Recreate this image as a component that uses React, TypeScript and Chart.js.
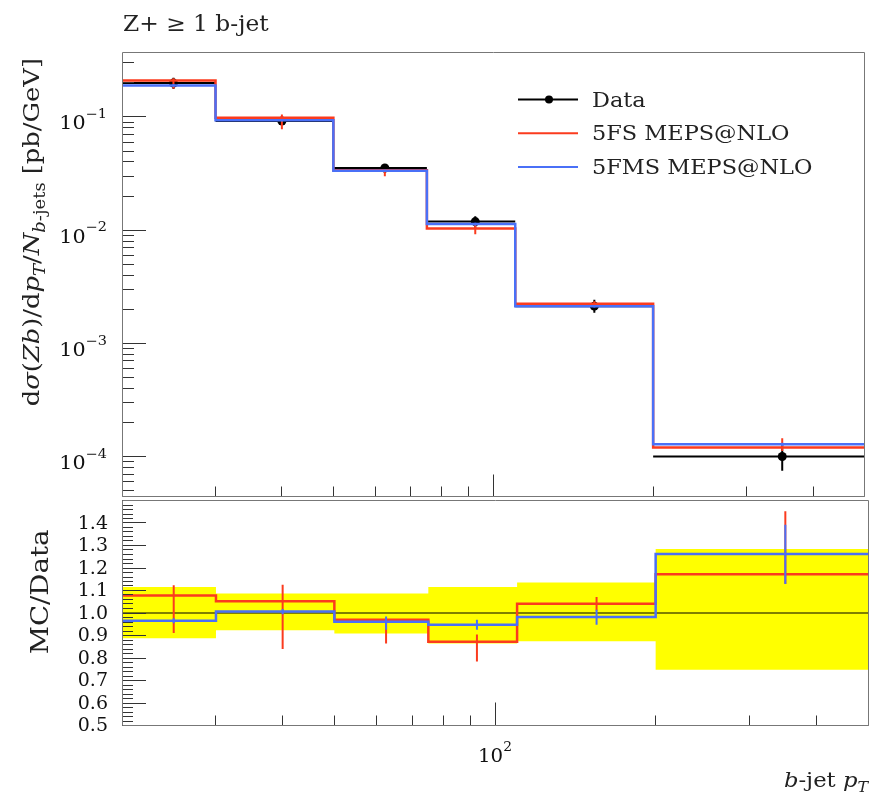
import React, { useEffect, useRef } from 'react';
import { Chart, registerables } from 'chart.js';
Chart.register(...registerables);

// ---------------- data ----------------
const binEdges = [20, 30, 50, 75, 110, 200, 500];
const binCenters = [25, 40, 62.5, 92.5, 155, 350];

const dataVals = [0.199, 0.092, 0.0354, 0.0119, 0.00213, 0.0001];
const fs5Vals = [0.21, 0.0984, 0.0338, 0.01035, 0.00223, 0.00012];
const fms5Vals = [0.19, 0.0937, 0.0335, 0.0113, 0.00212, 0.000128];

const fs5Lo = [0.177, 0.0777, 0.0299, 0.00917, 0.00213, 0.000112];
const fs5Hi = [0.22, 0.105, 0.0347, 0.01107, 0.00235, 0.000145];
const fms5Lo = [0.186, 0.0918, 0.0328, 0.011, 0.00207, 0.000124];
const fms5Hi = [0.194, 0.0956, 0.0342, 0.0116, 0.00217, 0.000132];

// relative data uncertainty (yellow band in ratio)
const bandLo = [0.888, 0.923, 0.909, 0.865, 0.874, 0.748];
const bandHi = [1.116, 1.087, 1.087, 1.116, 1.136, 1.284];

const fs5Ratio = [1.078, 1.052, 0.97, 0.872, 1.041, 1.172];
const fms5Ratio = [0.966, 1.007, 0.961, 0.948, 0.982, 1.262];
const fs5RatioLo = [0.911, 0.84, 0.864, 0.785, 1.01, 1.13];
const fs5RatioHi = [1.123, 1.126, 0.978, 0.904, 1.071, 1.452];
const fms5RatioLo = [0.955, 0.995, 0.926, 0.926, 0.948, 1.129];
const fms5RatioHi = [0.977, 1.018, 0.985, 0.97, 1.015, 1.392];

const xTickVals = [20, 30, 40, 50, 60, 70, 80, 90, 100, 200, 300, 400, 500];
const xMajorVals = [100];
const xRange = [20, 500];
const yLogRange = [4.43e-5, 0.3747];
const yLogDecades = [-5, -4, -3, -2, -1];
const ratioRange = [0.5, 1.5];
const ratioLabelVals = [0.5, 0.6, 0.7, 0.8, 0.9, 1.0, 1.1, 1.2, 1.3, 1.4];

const legendLabels = ['Data', '5FS MEPS@NLO', '5FMS MEPS@NLO'];

// ---------------- styles ----------------
const FONT = '"DejaVu Serif", serif';
const RED = '#fb3b1e';
const BLUE = '#4a70f7';
const YELLOW = '#ffff00';
const FRAME = '#777777';
const TICK = '#333333';

type Seg = { t: string; it?: boolean; sub?: boolean; sup?: boolean };

function segFont(s: Seg, size: number) {
  const sz = s.sub || s.sup ? size * 0.7 : size;
  return `${s.it ? 'italic ' : ''}${sz}px ${FONT}`;
}
function richWidth(ctx: CanvasRenderingContext2D, segs: Seg[], size: number) {
  let w = 0;
  for (const s of segs) {
    ctx.font = segFont(s, size);
    w += ctx.measureText(s.t).width;
  }
  return w;
}
function drawRich(
  ctx: CanvasRenderingContext2D,
  segs: Seg[],
  x: number,
  y: number,
  size: number,
  align: 'left' | 'right' | 'center',
  sx = 1
) {
  const w = richWidth(ctx, segs, size) * sx;
  const x0 = align === 'left' ? x : align === 'right' ? x - w : x - w / 2;
  ctx.save();
  ctx.translate(x0, y);
  ctx.scale(sx, 1);
  ctx.textAlign = 'left';
  ctx.textBaseline = 'alphabetic';
  let cx = 0;
  for (const s of segs) {
    ctx.font = segFont(s, size);
    const dy = s.sub ? size * 0.24 : s.sup ? -size * 0.62 : 0;
    ctx.fillText(s.t, cx, dy);
    cx += ctx.measureText(s.t).width;
  }
  ctx.restore();
}

const crisp = (v: number) => Math.floor(v) + 0.5;

// ---------------- point builders ----------------
const stepPoints = (vals: number[]) =>
  binEdges.map((e, i) => ({ x: e, y: vals[Math.min(i, vals.length - 1)] }));

const xErrPoints = (vals: number[]) => {
  const pts: { x: number; y: number | null }[] = [];
  vals.forEach((v, i) => {
    pts.push({ x: binEdges[i], y: v }, { x: binEdges[i + 1], y: v }, { x: binEdges[i + 1], y: null });
  });
  return pts;
};

const yErrPoints = (lo: number[], hi: number[]) => {
  const pts: { x: number; y: number | null }[] = [];
  lo.forEach((l, i) => {
    pts.push({ x: binCenters[i], y: l }, { x: binCenters[i], y: hi[i] }, { x: binCenters[i], y: null });
  });
  return pts;
};

const lineDs = (data: any[], color: string, width: number, order: number, extra: any = {}) => ({
  data,
  borderColor: color,
  backgroundColor: color,
  borderWidth: width,
  pointRadius: 0,
  spanGaps: false,
  fill: false,
  order,
  ...extra,
});

// ---------------- plugins ----------------
const topPlugin = {
  id: 'topDecor',
  afterDraw(chart: any) {
    const ctx: CanvasRenderingContext2D = chart.ctx;
    const { left, right, top, bottom } = chart.chartArea;
    const xs = chart.scales.x;
    const ys = chart.scales.y;
    ctx.save();
    // ticks
    ctx.strokeStyle = TICK;
    ctx.lineWidth = 1;
    ctx.beginPath();
    for (const d of yLogDecades) {
      for (let m = 1; m <= 9; m++) {
        const v = m * Math.pow(10, d);
        if (v < yLogRange[0] || v > yLogRange[1]) continue;
        const py = crisp(ys.getPixelForValue(v));
        const len = m === 1 ? 24 : 12;
        ctx.moveTo(left, py);
        ctx.lineTo(left + len, py);
      }
    }
    for (const v of xTickVals) {
      const px = crisp(xs.getPixelForValue(v));
      const len = xMajorVals.includes(v) ? 22 : 10;
      ctx.moveTo(px, bottom);
      ctx.lineTo(px, bottom - len);
    }
    ctx.stroke();
    // frame
    ctx.strokeStyle = FRAME;
    ctx.beginPath();
    ctx.moveTo(crisp(left), crisp(top));
    ctx.lineTo(crisp(right), crisp(top));
    ctx.lineTo(crisp(right), crisp(bottom));
    ctx.lineTo(crisp(left), crisp(bottom));
    ctx.closePath();
    ctx.stroke();
    // y tick labels
    ctx.fillStyle = '#111';
    for (const d of yLogDecades) {
      const v = Math.pow(10, d);
      if (v < yLogRange[0] || v > yLogRange[1]) continue;
      const py = ys.getPixelForValue(v);
      drawRich(ctx, [{ t: '10' }, { t: '\u2212' + Math.abs(d), sup: true }], 107, py + 12.5, 18, 'right', 1.15);
    }
    // title
    ctx.fillStyle = '#222';
    drawRich(ctx, [{ t: 'Z+ \u2265 1 b-jet' }], 123, 31, 22, 'left', 1.06);
    // y axis title
    ctx.save();
    ctx.translate(39, 58);
    ctx.rotate(-Math.PI / 2);
    drawRich(
      ctx,
      [
        { t: 'd' },
        { t: '\u03c3', it: true },
        { t: '(' },
        { t: 'Zb', it: true },
        { t: ')/d' },
        { t: 'p', it: true },
        { t: 'T', it: true, sub: true },
        { t: '/' },
        { t: 'N', it: true },
        { t: 'b', it: true, sub: true },
        { t: '-jets', sub: true },
        { t: ' [pb/GeV]' },
      ],
      0,
      0,
      23,
      'right',
      1.12
    );
    ctx.restore();
    // legend
    const colors = ['#000000', RED, BLUE];
    legendLabels.forEach((lab, i) => {
      const y = 99.5 + i * 33.7;
      ctx.strokeStyle = colors[i];
      ctx.lineWidth = 2;
      ctx.beginPath();
      ctx.moveTo(518, y);
      ctx.lineTo(578, y);
      ctx.stroke();
      if (i === 0) {
        ctx.fillStyle = '#000';
        ctx.beginPath();
        ctx.arc(549, y, 4, 0, Math.PI * 2);
        ctx.fill();
      }
      ctx.fillStyle = '#222';
      drawRich(ctx, [{ t: lab }], 592, y + 7, 19.5, 'left', 1.15);
    });
    ctx.restore();
  },
};

const ratioPlugin = {
  id: 'ratioDecor',
  afterDraw(chart: any) {
    const ctx: CanvasRenderingContext2D = chart.ctx;
    const { left, right, top, bottom } = chart.chartArea;
    const xs = chart.scales.x;
    const ys = chart.scales.y;
    ctx.save();
    ctx.strokeStyle = TICK;
    ctx.lineWidth = 1;
    ctx.beginPath();
    const k0 = Math.round(ratioRange[0] / 0.02);
    const k1 = Math.round(ratioRange[1] / 0.02);
    for (let k = k0; k <= k1; k++) {
      const v = k * 0.02;
      const py = crisp(ys.getPixelForValue(v));
      const len = k % 5 === 0 ? 24 : 11;
      ctx.moveTo(left, py);
      ctx.lineTo(left + len, py);
    }
    for (const v of xTickVals) {
      const px = crisp(xs.getPixelForValue(v));
      const len = xMajorVals.includes(v) ? 23 : 10;
      ctx.moveTo(px, bottom);
      ctx.lineTo(px, bottom - len);
    }
    ctx.stroke();
    ctx.strokeStyle = FRAME;
    ctx.beginPath();
    ctx.moveTo(crisp(left), crisp(top));
    ctx.lineTo(crisp(right), crisp(top));
    ctx.lineTo(crisp(right), crisp(bottom));
    ctx.lineTo(crisp(left), crisp(bottom));
    ctx.closePath();
    ctx.stroke();
    // ratio labels
    ctx.fillStyle = '#111';
    ctx.font = `19px ${FONT}`;
    ctx.textAlign = 'right';
    ctx.textBaseline = 'middle';
    for (const v of ratioLabelVals) {
      ctx.fillText(v.toFixed(1), 108, ys.getPixelForValue(v) + 1);
    }
    // x labels
    for (const v of xMajorVals) {
      const px = xs.getPixelForValue(v);
      const exp = Math.round(Math.log10(v));
      drawRich(ctx, [{ t: '10' }, { t: String(exp), sup: true }], px, bottom + 36.5, 18, 'center', 1.1);
    }
    ctx.fillStyle = '#222';
    drawRich(
      ctx,
      [{ t: 'b', it: true }, { t: '-jet ' }, { t: 'p', it: true }, { t: 'T', it: true, sub: true }],
      868,
      bottom + 61,
      21,
      'right',
      1.08
    );
    // y title
    ctx.save();
    ctx.translate(48, top + 29);
    ctx.rotate(-Math.PI / 2);
    drawRich(ctx, [{ t: 'MC/Data' }], 0, 0, 24, 'right', 1.15);
    ctx.restore();
    ctx.restore();
  },
};

export default function App() {
  const topRef = useRef<HTMLCanvasElement>(null);
  const botRef = useRef<HTMLCanvasElement>(null);

  useEffect(() => {
    const topChart = new Chart(topRef.current!, {
      type: 'line',
      data: {
        datasets: [
          lineDs(stepPoints(fms5Vals), BLUE, 2.5, 0, { stepped: 'before' }),
          lineDs(yErrPoints(fms5Lo, fms5Hi), BLUE, 2, 1),
          lineDs(stepPoints(fs5Vals), RED, 2.5, 2, { stepped: 'before' }),
          lineDs(yErrPoints(fs5Lo, fs5Hi), RED, 2, 3),
          lineDs(
            binCenters.map((c, i) => ({ x: c, y: dataVals[i] })),
            '#000',
            0,
            4,
            { showLine: false, pointRadius: 4.5, pointBackgroundColor: '#000', pointBorderWidth: 0 }
          ),
          lineDs(
            yErrPoints(
              dataVals.map((v, i) => v * bandLo[i]),
              dataVals.map((v, i) => v * bandHi[i])
            ),
            '#000',
            2,
            5
          ),
          lineDs(xErrPoints(dataVals), '#000', 2, 6),
        ],
      },
      options: {
        responsive: false,
        animation: false,
        devicePixelRatio: 1,
        layout: { padding: { left: 122, right: 1, top: 52, bottom: 0.5 } },
        plugins: { legend: { display: false }, tooltip: { enabled: false } },
        events: [],
        scales: {
          x: { type: 'logarithmic', min: xRange[0], max: xRange[1], display: false, bounds: 'data' },
          y: { type: 'logarithmic', min: yLogRange[0], max: yLogRange[1], display: false, bounds: 'data' },
        },
      } as any,
      plugins: [topPlugin],
    });

    const ratioChart = new Chart(botRef.current!, {
      type: 'line',
      data: {
        datasets: [
          lineDs(stepPoints(bandLo), YELLOW, 0, 10, { stepped: 'before' }),
          lineDs(stepPoints(bandHi), YELLOW, 0, 9, { stepped: 'before', fill: '-1', backgroundColor: YELLOW }),
          lineDs(
            [
              { x: xRange[0], y: 1 },
              { x: xRange[1], y: 1 },
            ],
            '#000',
            1,
            5
          ),
          lineDs(stepPoints(fs5Ratio), RED, 2.5, 3, { stepped: 'before' }),
          lineDs(yErrPoints(fs5RatioLo, fs5RatioHi), RED, 2, 2),
          lineDs(stepPoints(fms5Ratio), BLUE, 2.5, 1, { stepped: 'before' }),
          lineDs(yErrPoints(fms5RatioLo, fms5RatioHi), BLUE, 2, 0),
        ],
      },
      options: {
        responsive: false,
        animation: false,
        devicePixelRatio: 1,
        layout: { padding: { left: 122, right: 1, top: 0.5, bottom: 74.5 } },
        plugins: { legend: { display: false }, tooltip: { enabled: false } },
        events: [],
        scales: {
          x: { type: 'logarithmic', min: xRange[0], max: xRange[1], display: false, bounds: 'data' },
          y: { type: 'linear', min: ratioRange[0], max: ratioRange[1], display: false, bounds: 'data' },
        },
      } as any,
      plugins: [ratioPlugin],
    });

    return () => {
      topChart.destroy();
      ratioChart.destroy();
    };
  }, []);

  return (
    <div style={{ position: 'absolute', left: 0, top: 0, width: 869, height: 800, background: '#fff' }}>
      <canvas
        ref={topRef}
        width={869}
        height={501}
        style={{ position: 'absolute', left: 0, top: 0, width: 869, height: 501 }}
      />
      <canvas
        ref={botRef}
        width={869}
        height={300}
        style={{ position: 'absolute', left: 0, top: 500, width: 869, height: 300 }}
      />
    </div>
  );
}
